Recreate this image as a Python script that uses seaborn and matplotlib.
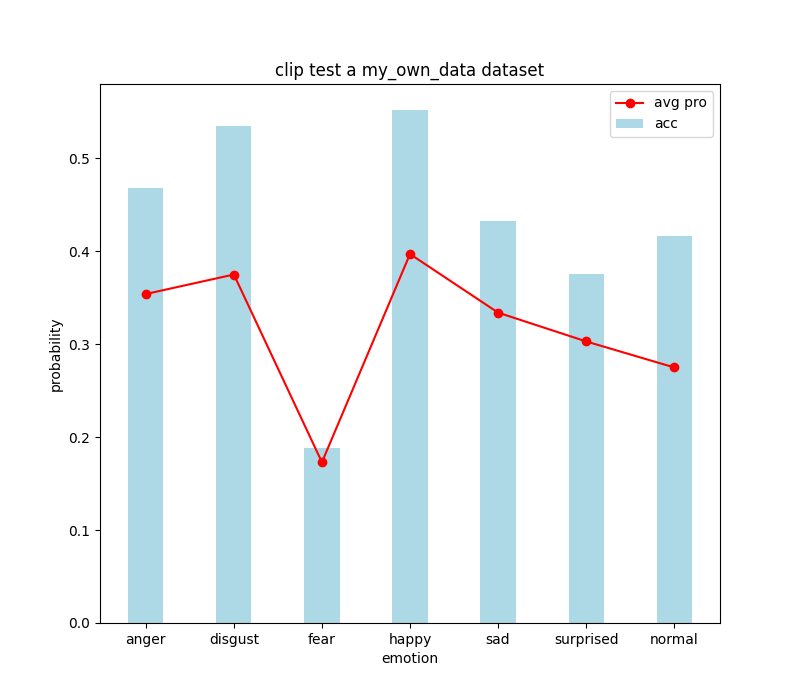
import matplotlib
matplotlib.use("Agg")
import matplotlib.pyplot as plt
import seaborn as sns

emotions = ['anger', 'disgust', 'fear', 'happy', 'sad', 'surprised', 'normal']
acc = [0.468, 0.535, 0.188, 0.552, 0.433, 0.376, 0.416]
avg_pro = [0.354, 0.375, 0.173, 0.397, 0.334, 0.303, 0.275]

fig, ax = plt.subplots(figsize=(8, 7), dpi=100)
sns.barplot(x=emotions, y=acc, width=0.4, color='lightblue', saturation=1,
            label='acc', ax=ax)
ax.plot(range(len(emotions)), avg_pro, color='red', marker='o', label='avg pro')
ax.set_xlim(-0.52, 6.52)
ax.set_ylim(0, 0.58)
ax.set_title('clip test a my_own_data dataset')
ax.set_xlabel('emotion')
ax.set_ylabel('probability')
ax.legend(loc='upper right')
fig.savefig('out.png')
